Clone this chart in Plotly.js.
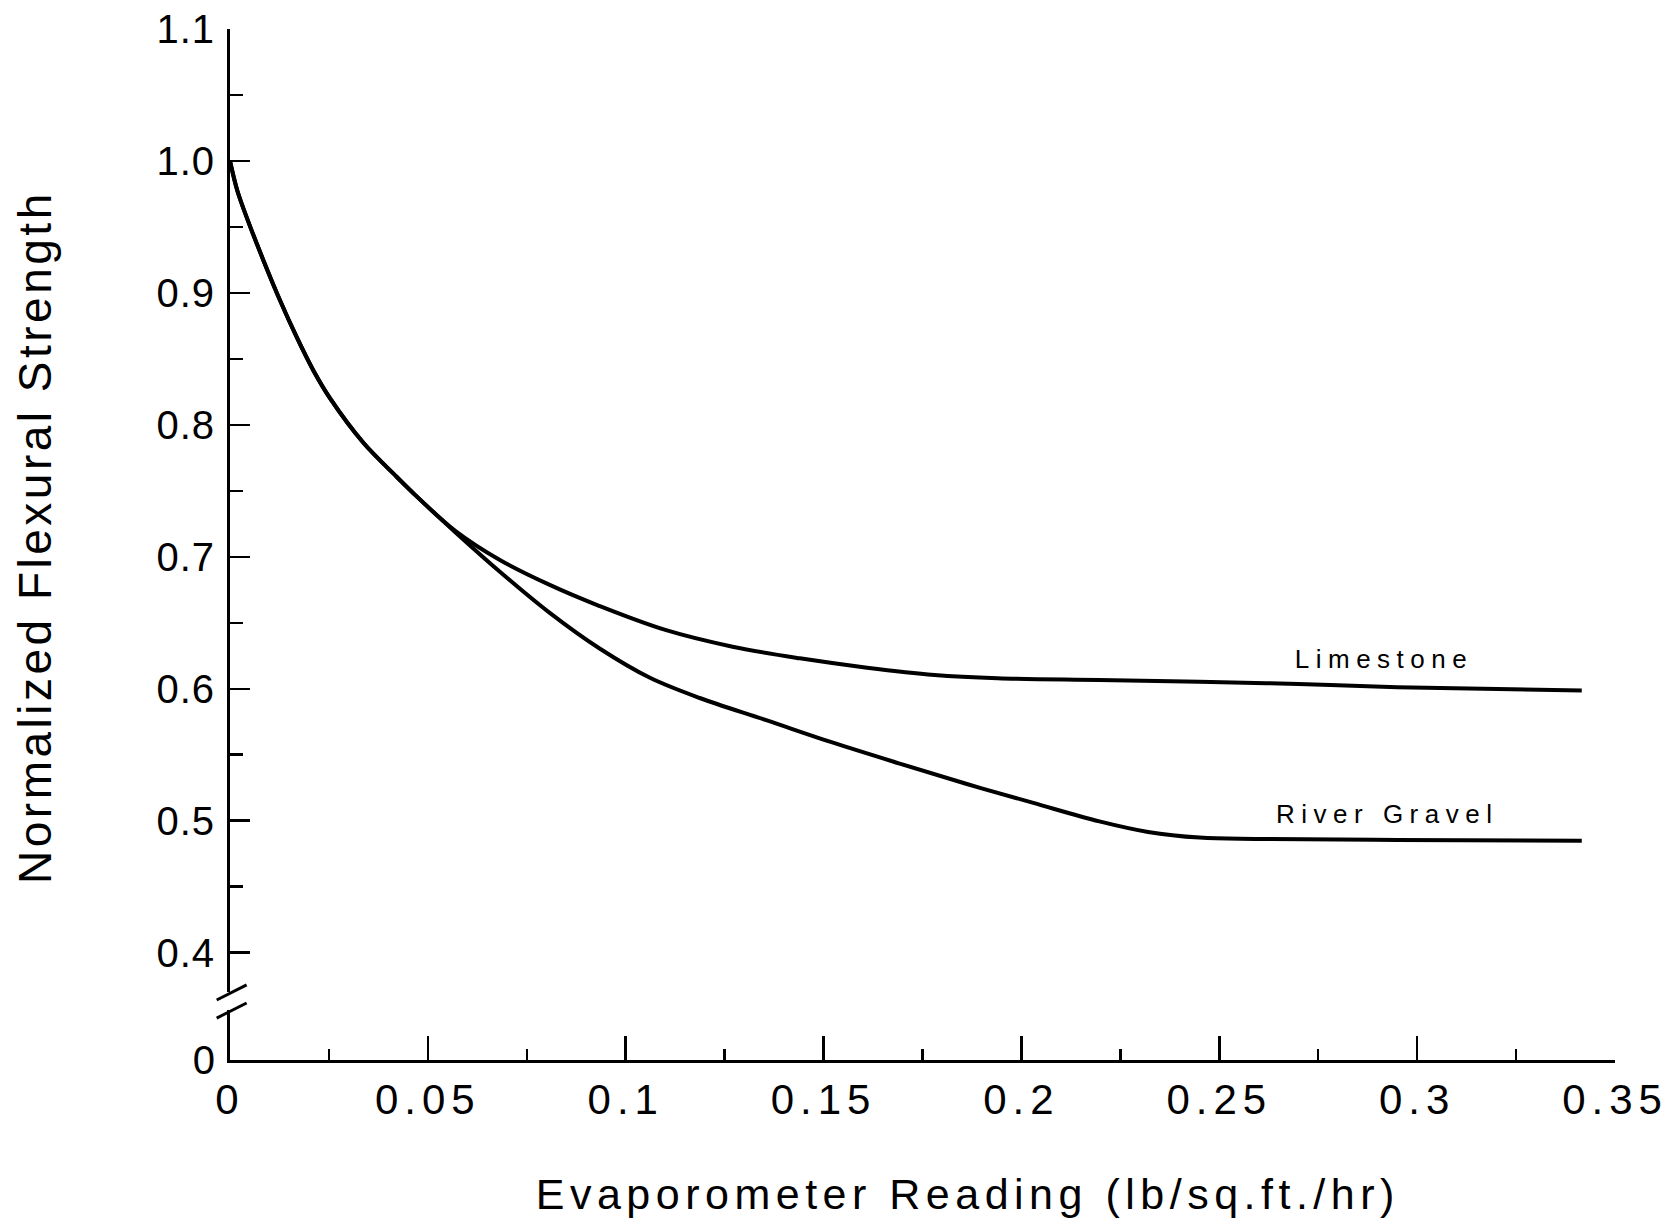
<!DOCTYPE html>
<html>
<head>
<meta charset="utf-8">
<script src="https://cdn.plot.ly/plotly-3.0.1.min.js"></script>
<style>
  html, body { margin: 0; padding: 0; background: #fff; }
  #chart { width: 1675px; height: 1222px; }
  .xtick text { letter-spacing: 6px; }
  .ytick text { letter-spacing: 1px; }
  g.annotation[data-index="0"] text, g.annotation[data-index="1"] text { letter-spacing: 6.5px; }
  g.annotation[data-index="2"] text { letter-spacing: 5.5px; }
  g.annotation[data-index="3"] text { letter-spacing: 3.5px; }
</style>
</head>
<body>
<div id="chart"></div>
<script>
// Evaporometer reading (lb/sq.ft./hr) and normalized flexural strength
const limestoneX = [0, 0.0018, 0.0045, 0.0084, 0.0126, 0.0168, 0.0210, 0.0253, 0.0337, 0.0421, 0.0471, 0.057,
  0.0682, 0.0808, 0.0934, 0.110, 0.127, 0.144, 0.161, 0.178, 0.194, 0.2197, 0.245, 0.270, 0.295, 0.3416];
const limestoneY = [1.0, 0.978, 0.955, 0.925, 0.8946, 0.8668, 0.8416, 0.8200, 0.7864, 0.7607, 0.7460, 0.7195,
  0.6976, 0.6787, 0.6627, 0.6446, 0.6319, 0.6231, 0.6160, 0.6105, 0.6080, 0.6067, 0.6054, 0.6036, 0.6011, 0.5986];

const gravelX = [0, 0.0018, 0.0045, 0.0084, 0.0126, 0.0168, 0.0210, 0.0253, 0.0337, 0.0421, 0.0471, 0.057,
  0.0682, 0.0808, 0.0934, 0.106, 0.1187, 0.1355, 0.152, 0.169, 0.186, 0.203, 0.2197, 0.232, 0.245, 0.260, 0.295, 0.3416];
const gravelY = [1.0, 0.978, 0.955, 0.925, 0.8946, 0.8668, 0.8416, 0.8200, 0.7864, 0.7607, 0.7460, 0.7185,
  0.6887, 0.6575, 0.6305, 0.6085, 0.5930, 0.5762, 0.5595, 0.5435, 0.5280, 0.5135, 0.4995, 0.4915, 0.4872, 0.4862, 0.4854, 0.4849];

const seriesNames = ["Limestone", "River Gravel"];
const xTitle = "Evaporometer Reading (lb/sq.ft./hr)";
const yTitle = "Normalized Flexural Strength";
const lowerTickVals = [0];
const lowerTickText = ["0"];

const FONT = "Liberation Sans, Arial, Helvetica, sans-serif";
const lineStyle = { color: "#000", width: 4, shape: "spline", smoothing: 1.0 };

const traces = [
  { x: limestoneX, y: limestoneY, type: "scatter", mode: "lines", name: seriesNames[0],
    line: lineStyle, xaxis: "x", yaxis: "y", hoverinfo: "skip" },
  { x: gravelX, y: gravelY, type: "scatter", mode: "lines", name: seriesNames[1],
    line: lineStyle, xaxis: "x", yaxis: "y", hoverinfo: "skip" },
  { x: [], y: [], type: "scatter", mode: "lines", xaxis: "x", yaxis: "y2", showlegend: false }
];

const layout = {
  width: 1675, height: 1222,
  margin: { l: 230, r: 60, t: 29, b: 162 },
  paper_bgcolor: "#fff", plot_bgcolor: "#fff",
  showlegend: false,
  font: { family: FONT, color: "#000" },
  xaxis: {
    anchor: "y2", range: [0, 0.35], tickmode: "linear", tick0: 0, dtick: 0.05,
    showgrid: false, zeroline: false, showline: true, linewidth: 3, linecolor: "#000",
    ticks: "inside", ticklen: 24, tickwidth: 2.5, tickcolor: "#000",
    minor: { tick0: 0, dtick: 0.025, ticks: "inside", ticklen: 11, tickwidth: 2.5, tickcolor: "#000", showgrid: false },
    tickfont: { family: FONT, size: 42, color: "#000" },
    ticklabelstandoff: 1
  },
  yaxis: {
    anchor: "x", domain: [0.06596, 1], range: [0.3702, 1.1],
    tickmode: "linear", tick0: 0, dtick: 0.1, tickformat: ".1f",
    showgrid: false, zeroline: false, showline: true, linewidth: 3, linecolor: "#000",
    ticks: "inside", ticklen: 20, tickwidth: 2.5, tickcolor: "#000",
    minor: { tick0: 0, dtick: 0.05, ticks: "inside", ticklen: 13, tickwidth: 2.5, tickcolor: "#000", showgrid: false },
    tickfont: { family: FONT, size: 40, color: "#000" },
    ticklabelstandoff: 4
  },
  yaxis2: {
    anchor: "x", domain: [0, 0.0485], range: [0, 1],
    tickmode: "array", tickvals: lowerTickVals, ticktext: lowerTickText,
    showgrid: false, zeroline: false, showline: true, linewidth: 3, linecolor: "#000",
    ticks: "", tickfont: { family: FONT, size: 40, color: "#000" },
    ticklabelstandoff: 4
  },
  shapes: [
    { type: "line", xref: "paper", yref: "paper", x0: -0.0096, y0: 0.0582, x1: 0.0120, y1: 0.0728,
      line: { color: "#000", width: 3 } },
    { type: "line", xref: "paper", yref: "paper", x0: -0.0096, y0: 0.0407, x1: 0.0120, y1: 0.0553,
      line: { color: "#000", width: 3 } }
  ],
  annotations: [
    { text: seriesNames[0], x: 0.2916, y: 0.6226, xref: "x", yref: "y", showarrow: false,
      xanchor: "center", yanchor: "middle", font: { family: FONT, size: 26, color: "#000" } },
    { text: seriesNames[1], x: 0.2924, y: 0.505, xref: "x", yref: "y", showarrow: false,
      xanchor: "center", yanchor: "middle", font: { family: FONT, size: 26, color: "#000" } },
    { text: xTitle, x: 0.533, y: -0.130, xref: "paper", yref: "paper", showarrow: false,
      xanchor: "center", yanchor: "middle", font: { family: FONT, size: 43, color: "#000" } },
    { text: yTitle, x: -0.1408, y: 0.5073, xref: "paper", yref: "paper", showarrow: false, textangle: -90,
      xanchor: "center", yanchor: "middle", font: { family: FONT, size: 46, color: "#000" } }
  ]
};

Plotly.newPlot("chart", traces, layout, { staticPlot: true, displayModeBar: false });
</script>
</body>
</html>
